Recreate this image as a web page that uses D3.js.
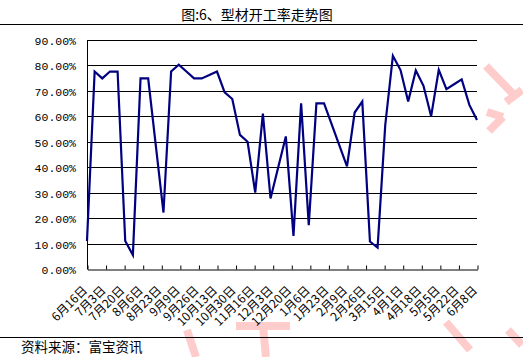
<!DOCTYPE html>
<html>
<head>
<meta charset="utf-8">
<script src="https://cdn.jsdelivr.net/npm/d3@7"></script>
<style>
  body { margin: 0; background: #fff; }
  svg { display: block; }
</style>
</head>
<body>
<script>
// weekly readings, starting 6/16
const startDate = new Date(2014, 5, 16)
const values = [
  11.0, 77.6, 74.9, 77.6, 77.6, 11.0, 5.5, 74.9, 74.9, 48.5,
  22.2, 77.6, 80.3, 77.6, 74.9, 74.9, 76.2, 77.6, 69.4, 66.8,
  52.7, 50.0, 30.0, 61.1, 27.7, 39.9, 52.1, 13.0, 65.1, 17.2,
  65.1, 65.1, 56.8, 48.6, 40.3, 61.5, 65.8, 10.8, 8.4, 56.5,
  83.8, 78.2, 65.8, 78.0, 72.0, 60.0, 78.3, 70.7, 72.6, 74.5,
  64.5, 58.6
]
const yTicks = [0, 10, 20, 30, 40, 50, 60, 70, 80, 90]
const tickStepDays = 17
const tickCount = 22
const title = '图:6、型材开工率走势图'
const source = '资料来源：富宝资讯'

const data = values.map((v, i) => ({ date: d3.timeDay.offset(startDate, 7 * i), value: v }))
const xTicks = d3.range(tickCount).map(i => d3.timeDay.offset(startDate, tickStepDays * i))

const width = 523
const height = 357
const margin = { top: 40, right: 46, bottom: 88, left: 87 }

const svg = d3.select('body').append('svg')
    .attr('width', width)
    .attr('height', height)

const x = d3.scaleTime()
    .domain([startDate, xTicks[xTicks.length - 1]])
    .range([margin.left, width - margin.right])

const y = d3.scaleLinear()
    .domain([0, 90])
    .range([height - margin.bottom, margin.top])

// pink watermark bits
const wm = svg.append('g')
    .attr('stroke', '#ffcccc')
    .attr('stroke-width', 8)
    .attr('fill', 'none')
const wmPaths = [
  [[486, 66], [516, 97]], [[506, 102], [522, 90]],
  [[487, 112], [503, 117]], [[503, 117], [489, 131]],
  [[236, 326], [290, 326]], [[263, 326], [266, 357]],
  [[187, 330], [196, 357]],
  [[446, 322], [470, 350]], [[508, 330], [522, 345]]
]
wmPaths.forEach(p => wm.append('path').attr('d', d3.line()(p)))

// title + separator lines
svg.append('text')
    .attr('x', 257)
    .attr('y', 19.5)
    .attr('text-anchor', 'middle')
    .style('font-family', '"Noto Sans CJK SC", sans-serif')
    .style('font-size', '14px')
    .text(title)

svg.append('line')
    .attr('x1', 0).attr('x2', width)
    .attr('y1', 24.5).attr('y2', 24.5)
    .attr('stroke', '#000')

svg.append('line')
    .attr('x1', 0).attr('x2', width)
    .attr('y1', 337.5).attr('y2', 337.5)
    .attr('stroke', '#000')

svg.append('text')
    .attr('x', 21)
    .attr('y', 352)
    .style('font-family', '"Noto Sans CJK SC", sans-serif')
    .style('font-size', '13.5px')
    .text(source)

// grid
svg.append('g')
    .selectAll('line')
    .data(yTicks.filter(d => d > 0))
    .join('line')
    .attr('x1', margin.left)
    .attr('x2', width - margin.right)
    .attr('y1', d => Math.round(y(d)) + 0.5)
    .attr('y2', d => Math.round(y(d)) + 0.5)
    .attr('stroke', '#000')

// y labels
svg.append('g')
    .selectAll('text')
    .data(yTicks)
    .join('text')
    .attr('x', 76)
    .attr('y', d => Math.round(y(d)) + 0.5)
    .attr('dy', '0.35em')
    .attr('text-anchor', 'end')
    .style('font-family', '"Liberation Mono", monospace')
    .style('font-size', '11.5px')
    .text(d => d.toFixed(2) + '%')

// left axis line
svg.append('line')
    .attr('x1', margin.left + 0.5).attr('x2', margin.left + 0.5)
    .attr('y1', Math.round(y(90)) + 0.5)
    .attr('y2', Math.round(y(0)) + 0.5)
    .attr('stroke', '#000')

// bottom axis, ticks pointing up
const xAxis = svg.append('g')
    .attr('transform', `translate(0.5,${Math.round(y(0)) + 0.5})`)
    .call(d3.axisBottom(x).tickValues(xTicks).tickSizeInner(-4).tickSizeOuter(0).tickFormat(''))
xAxis.select('.domain').attr('stroke', '#000')
xAxis.selectAll('.tick line').attr('stroke', '#000')

svg.append('g')
    .selectAll('text')
    .data(xTicks)
    .join('text')
    .attr('transform', d => `translate(${x(d) - 2},288) rotate(-45)`)
    .attr('dy', '0.35em')
    .attr('text-anchor', 'end')
    .style('font-family', '"Noto Sans CJK SC", sans-serif')
    .style('font-size', '12px')
    .text(d3.timeFormat('%-m月%-d日'))

// series
svg.append('path')
    .datum(data)
    .attr('fill', 'none')
    .attr('stroke', '#000080')
    .attr('stroke-width', 2.2)
    .attr('d', d3.line().x(d => x(d.date)).y(d => y(d.value)))
</script>
</body>
</html>
